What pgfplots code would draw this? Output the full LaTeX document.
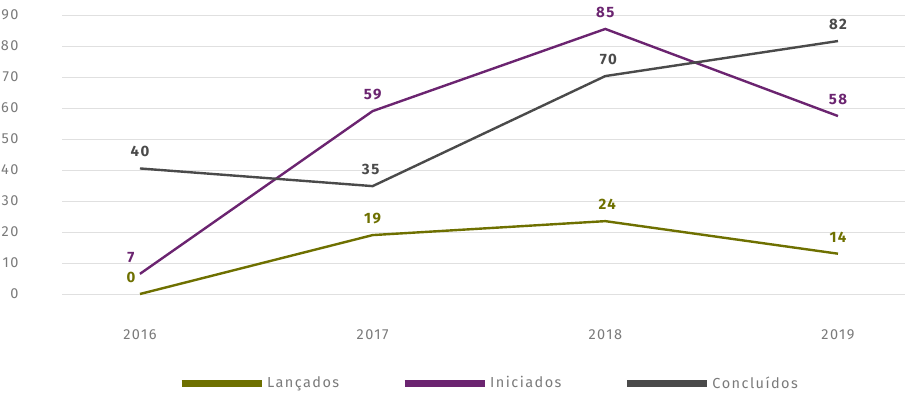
\documentclass[border=0pt]{standalone}
\usepackage{pgfplots}
\pgfplotsset{compat=1.18}
\usepackage{fontspec}
\setmainfont{Fira Sans}[LetterSpace=10]
\definecolor{cOlive}{HTML}{6E7000}
\definecolor{cPurple}{HTML}{6B2470}
\definecolor{cGray}{HTML}{4A4A4A}
\definecolor{cTick}{HTML}{7A7A7A}
\definecolor{cGrid}{HTML}{E0E0E0}
\begin{document}
\begin{tikzpicture}
\path[use as bounding box] (-62pt,-101pt) rectangle (855pt,294pt);
\begin{axis}[
  scale only axis,
  width=843pt, height=279pt,
  xmin=2015.665, xmax=2019.288,
  ymin=0, ymax=90,
  axis line style={draw=none},
  xtick={2016,2017,2018,2019},
  xticklabels={2016,2017,2018,2019},
  ytick={0,10,...,90},
  major tick length=0pt,
  ymajorgrids,
  grid style={cGrid, line width=0.8pt},
  /pgf/number format/assume math mode=true,
  tick label style={font=\fontsize{14.5}{16}\selectfont, text=cTick},
  yticklabel style={anchor=east, xshift=-40pt},
  xticklabel style={yshift=-32pt},
  clip=false,
  nodes near coords,
  point meta=explicit symbolic,
  visualization depends on={\thisrow{dx} \as \dx},
  every node near coord/.append style={font=\bfseries\fontsize{15}{16}\selectfont, anchor=south, inner sep=0pt, yshift=10pt, xshift=\dx pt},
  legend columns=3,
  legend style={at={(0.5065,-0.319)}, anchor=center, draw=none, fill=none,
    font=\fontsize{14.5}{16}\selectfont, text=cTick,
    /tikz/every even column/.append style={column sep=60pt}},
  legend image code/.code={\draw[line width=7pt] (0pt,0pt) -- (80pt,0pt);},
]
\addplot[cOlive, line width=2.4pt, every node near coord/.append style={text=cOlive}] table[meta=l] {
x y l dx
2016 0 0 -9
2017 19 19 0
2018 23.5 24 2
2019 13 14 0
};
\addlegendentry{Lançados}
\addplot[cPurple, line width=2.4pt, every node near coord/.append style={text=cPurple}] table[meta=l] {
x y l dx
2016 6.5 7 -9
2017 59 59 0
2018 85.5 85 0
2019 57.4 58 0
};
\addlegendentry{Iniciados}
\addplot[cGray, line width=2.4pt, every node near coord/.append style={text=cGray}] table[meta=l] {
x y l dx
2016 40.5 40 0
2017 34.8 35 -2
2018 70.3 70 3
2019 81.6 82 0
};
\addlegendentry{Concluídos}
\end{axis}
\end{tikzpicture}
\end{document}
